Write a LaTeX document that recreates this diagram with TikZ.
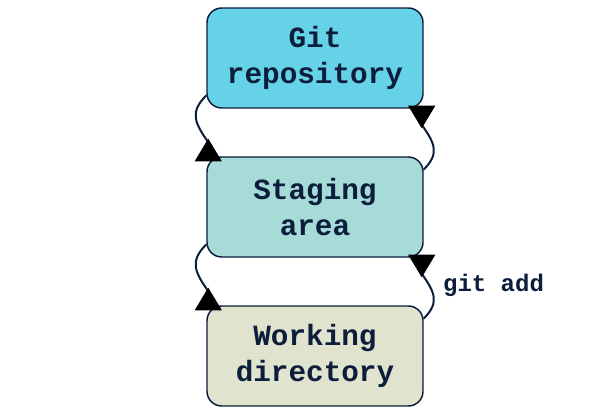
\documentclass[tikz,border=0pt]{standalone}
\usepackage{fontspec}
\setmonofont{Liberation Mono}
\usetikzlibrary{positioning, arrows.meta}
\definecolor{navy}{HTML}{0C1E3C}
\definecolor{repofill}{HTML}{66D2E8}
\definecolor{stagefill}{HTML}{A7DBD8}
\definecolor{workfill}{HTML}{E0E3CD}
\begin{document}
\begin{tikzpicture}[x=0.75pt, y=-0.75pt, node distance=111.75pt, on grid, thick]
      \tikzset{area/.style={draw=navy, line width=1.1pt, rounded corners=11pt, minimum width=162pt, minimum height=75pt, align=center, text=navy, font=\ttfamily\bfseries\fontsize{22}{27}\selectfont},
               flow/.style={draw=navy, line width=1.5pt, looseness=1.3, -{Triangle[reversed, length=17pt, width=20pt, color=black]}},
               cmd/.style={text=navy, font=\ttfamily\bfseries\fontsize{18}{22}\selectfont}}
      \useasboundingbox (0,0) rectangle (600,417);

      % Nodes
      \node[area, fill=repofill]  (repo) at (315,58) {Git\\repository};
      \node[area, fill=stagefill] (staging) [below=of repo] {Staging\\area};
      \node[area, fill=workfill]  (working) [below=of staging] {Working\\directory};

      % Edges
      \draw[flow] (repo.199) to[out=225, in=125] ([shift={(2,-14)}]staging.north west) -- ([shift={(2,5)}]staging.north west);
      \draw[flow] (staging.19) to[out=45, in=-55] ([shift={(-2,16)}]repo.south east) -- ([shift={(-2,-3)}]repo.south east);
      \draw[flow] (staging.199) to[out=225, in=125] ([shift={(2,-14)}]working.north west) -- ([shift={(2,5)}]working.north west);
      \draw[flow] (working.19) to[out=45, in=-55] node[cmd, right=3pt, yshift=9pt] (gitadd) {git add} ([shift={(-2,16)}]staging.south east) -- ([shift={(-2,-3)}]staging.south east);
    \end{tikzpicture}
\end{document}
